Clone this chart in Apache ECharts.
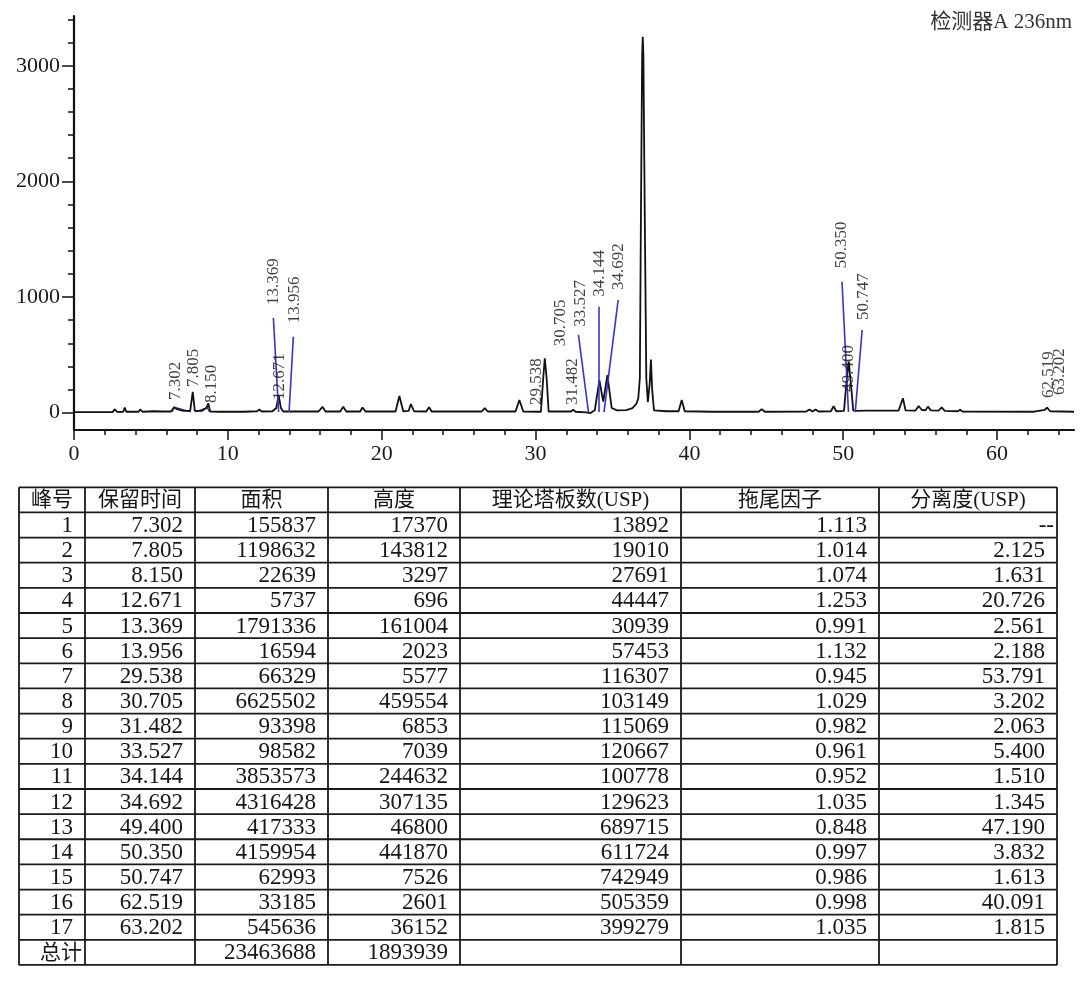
<!DOCTYPE html>
<html><head><meta charset="utf-8">
<script src="https://cdn.jsdelivr.net/npm/echarts@6/dist/echarts.min.js"></script>
<style>html,body{margin:0;padding:0;background:#fff}#c{width:1080px;height:982px}</style>
</head><body><div id="c"></div>
<script>
// ---- chromatogram trace: [time (min), signal (mAU)]
const traceData = [
 [0,5],[2.5,5],[2.65,28],[2.8,6],[3.2,8],[3.3,45],[3.4,8],[4.2,8],[4.3,28],[4.45,8],
 [5.2,12],[5.8,10],[6.3,10],[6.5,45],[6.7,30],[7.1,15],[7.55,15],[7.72,180],[7.85,15],
 [8.3,15],[8.6,40],[8.73,80],[8.85,10],[9.5,8],[11.0,8],[11.9,12],[12.05,28],[12.2,10],
 [12.9,12],[13.15,40],[13.3,150],[13.45,40],[13.6,10],[15.9,10],[16.15,50],[16.35,10],
 [17.3,10],[17.5,50],[17.7,10],[18.6,10],[18.75,45],[18.95,10],[20.9,10],[21.15,144],
 [21.4,12],[21.75,15],[21.9,75],[22.1,12],[22.9,10],[23.08,46],[23.25,10],[26.5,10],
 [26.7,40],[26.9,10],[28.7,10],[28.95,110],[29.2,10],[30.35,8],[30.5,300],[30.6,470],
 [30.72,300],[30.85,10],[32.3,10],[32.45,25],[32.6,8],[33.3,2],[33.55,-5],[33.85,20],
 [34.15,280],[34.4,95],[34.67,325],[34.95,40],[35.3,20],[35.9,22],[36.3,40],[36.55,75],
 [36.68,125],[36.78,300],[36.85,1700],[36.93,3100],[36.97,3250],[37.01,3100],[37.1,1700],
 [37.2,300],[37.3,90],[37.42,250],[37.5,460],[37.58,200],[37.7,20],[38.5,12],[39.3,12],
 [39.5,110],[39.7,12],[41.5,8],[44.5,8],[44.7,29],[44.9,8],[47.6,10],[47.8,28],[48.0,10],
 [48.2,28],[48.4,10],[49.2,12],[49.37,55],[49.55,12],[50.05,15],[50.2,250],[50.35,442],
 [50.5,250],[50.65,20],[50.8,15],[51.5,18],[53.6,18],[53.88,124],[54.05,20],[54.7,18],
 [54.9,58],[55.1,25],[55.35,20],[55.5,52],[55.7,20],[56.2,18],[56.4,45],[56.6,15],
 [57.45,12],[57.6,25],[57.75,10],[62.4,8],[63.1,25],[63.25,43],[63.45,12],[65,8]
];
// blue integration marks near the first peaks
const integrationMarks = [
 [[6.4,8],[6.5,48],[7.6,6]],
 [[7.9,6],[8.65,45],[8.8,8]]
];

// ---- peak table
const peakNo = [1,2,3,4,5,6,7,8,9,10,11,12,13,14,15,16,17];
const retTime = [7.302,7.805,8.150,12.671,13.369,13.956,29.538,30.705,31.482,33.527,34.144,34.692,49.400,50.350,50.747,62.519,63.202];
const peakArea = [155837,1198632,22639,5737,1791336,16594,66329,6625502,93398,98582,3853573,4316428,417333,4159954,62993,33185,545636];
const peakHeight = [17370,143812,3297,696,161004,2023,5577,459554,6853,7039,244632,307135,46800,441870,7526,2601,36152];
const plates = [13892,19010,27691,44447,30939,57453,116307,103149,115069,120667,100778,129623,689715,611724,742949,505359,399279];
const tailing = ['1.113','1.014','1.074','1.253','0.991','1.132','0.945','1.029','0.982','0.961','0.952','1.035','0.848','0.997','0.986','0.998','1.035'];
const resolution = ['--','2.125','1.631','20.726','2.561','2.188','53.791','3.202','2.063','5.400','1.510','1.345','47.190','3.832','1.613','40.091','1.815'];
const totalLabel = '总计';
const totalArea = 23463688;
const totalHeight = 1893939;
const tableHeaders = ['峰号','保留时间','面积','高度','理论塔板数(USP)','拖尾因子','分离度(USP)'];
const detectorTitle = '检测器A 236nm';

// ---- label layout (anchor of each rotated retention-time label, in axis units)
const labelAnchor = [
 [6.63,110],[7.76,222],[8.97,84],[13.33,110],[13.0,930],[14.32,773],[30.08,67],[31.6,575],
 [32.38,66],[32.9,743],[34.15,1003],[35.39,1060],[50.34,181],[49.92,1248],[51.32,801],
 [63.33,127],[64.04,153]
];
// blue leader lines: [from label, to peak base]
const leaderLines = [
 [[12.96,818],[13.30,5]],
 [[14.26,657],[13.98,5]],
 [[32.79,672],[33.44,5]],
 [[34.13,916],[34.13,5]],
 [[35.37,974],[34.45,5]],
 [[49.92,1132],[50.34,5]],
 [[51.23,715],[50.78,5]]
];

const SERIF = '"Liberation Serif","DejaVu Serif",serif';
const MIXED = '"Liberation Serif","Noto Sans CJK SC",serif';
const INK = '#161616';

// plot geometry
const X0 = 74, W = 1000, XMAX = 65, YTOP = 16, YBOT = 430, YMIN = -150, YMAX = 3430;
const pxPerV = (YBOT - YTOP) / (YMAX - YMIN);
const zeroY = YBOT + YMIN * pxPerV;
const pxPerT = W / XMAX;

const chart = echarts.init(document.getElementById('c'));

function hiddenAxis(extra){
  return Object.assign({type:'value', axisLine:{show:false,onZero:false}, axisTick:{show:false},
    axisLabel:{show:false}, splitLine:{show:false}}, extra);
}

// ---- table graphics
const colX = [19, 85, 195, 328, 460, 681, 879, 1057];
const rowTop = 487.3, rowH = 25.14, nRows = 19;
const graphics = [];
for (let i = 0; i <= nRows; i++) {
  const y = rowTop + i * rowH;
  graphics.push({type:'line', shape:{x1:colX[0], y1:y, x2:colX[colX.length-1], y2:y},
    style:{stroke:'#1a1a1a', lineWidth:1.8}});
}
colX.forEach(x => graphics.push({type:'line',
  shape:{x1:x, y1:rowTop, x2:x, y2:rowTop + nRows*rowH}, style:{stroke:'#1a1a1a', lineWidth:1.8}}));
function cellText(text, col, row, align, pad, size, fam){
  const yc = rowTop + (row + 0.5) * rowH + 1;
  let x;
  if (align === 'center') x = (colX[col] + colX[col+1]) / 2;
  else x = colX[col+1] - pad;
  graphics.push({type:'text', x:x, y:yc, style:{text:String(text), fill:INK,
    fontSize:size || 23, fontFamily:fam || SERIF, align:align, verticalAlign:'middle'}});
}
tableHeaders.forEach((h, c) => cellText(h, c, 0, 'center', 0, 21, MIXED));
peakNo.forEach((n, i) => {
  const r = i + 1;
  cellText(n, 0, r, 'right', 12);
  cellText(retTime[i].toFixed(3), 1, r, 'right', 12);
  cellText(peakArea[i], 2, r, 'right', 12);
  cellText(peakHeight[i], 3, r, 'right', 12);
  cellText(plates[i], 4, r, 'right', 12);
  cellText(tailing[i], 5, r, 'right', 12);
  cellText(resolution[i], 6, r, 'right', resolution[i] === '--' ? 3 : 12);
});
cellText(totalLabel, 0, 18, 'right', 3, 21, MIXED);
cellText(totalArea, 2, 18, 'right', 12);
cellText(totalHeight, 3, 18, 'right', 12);
graphics.push({type:'text', x:1072, y:22, style:{text:detectorTitle, fill:'#333',
  fontSize:21, fontFamily:MIXED, align:'right', verticalAlign:'middle'}});

const tickStyle = {color:'#111', width:1.5};

chart.setOption({
  animation:false,
  backgroundColor:'#fff',
  grid:[
    {left:X0, top:YTOP, width:W, height:YBOT-YTOP},
    {left:X0, top:zeroY-3400*pxPerV, width:64*pxPerT, height:3400*pxPerV},
    {left:X0, top:zeroY-3000*pxPerV, width:60*pxPerT, height:3000*pxPerV}
  ],
  xAxis:[
    hiddenAxis({gridIndex:0, min:0, max:XMAX,
      axisLine:{show:true, onZero:false, lineStyle:{color:'#111', width:2.2}}}),
    hiddenAxis({gridIndex:1, min:0, max:64, interval:2, offset:YBOT-zeroY,
      axisTick:{show:true, length:5, lineStyle:tickStyle}}),
    hiddenAxis({gridIndex:2, min:0, max:60, interval:10, offset:YBOT-zeroY,
      axisTick:{show:true, length:10, lineStyle:tickStyle},
      axisLabel:{show:true, fontSize:22, fontFamily:SERIF, color:'#1a1a1a', margin:13,
        formatter:v => String(v)}})
  ],
  yAxis:[
    hiddenAxis({gridIndex:0, min:YMIN, max:YMAX,
      axisLine:{show:true, onZero:false, lineStyle:{color:'#111', width:2.2}}}),
    hiddenAxis({gridIndex:1, min:0, max:3400, interval:200,
      axisTick:{show:true, length:6, lineStyle:tickStyle}}),
    hiddenAxis({gridIndex:2, min:0, max:3000, interval:1000,
      axisTick:{show:true, length:12, lineStyle:tickStyle},
      axisLabel:{show:true, fontSize:22, fontFamily:SERIF, color:'#1a1a1a', margin:14,
        formatter:v => String(v)}})
  ],
  series:[
    {type:'line', xAxisIndex:0, yAxisIndex:0, data:traceData, showSymbol:false, symbol:'none',
      lineStyle:{color:'#111', width:1.8}, silent:true, z:3},
    {type:'lines', coordinateSystem:'cartesian2d', xAxisIndex:0, yAxisIndex:0, polyline:true,
      data:integrationMarks.map(c => ({coords:c})), lineStyle:{color:'#3535c8', width:1.3, opacity:1},
      silent:true, z:2},
    {type:'lines', coordinateSystem:'cartesian2d', xAxisIndex:0, yAxisIndex:0,
      data:leaderLines.map(c => ({coords:c})), lineStyle:{color:'#3535c8', width:1.6, opacity:1},
      silent:true, z:4},
    {type:'scatter', xAxisIndex:0, yAxisIndex:0, symbolSize:0.1, itemStyle:{color:'rgba(0,0,0,0)'},
      data:labelAnchor.map((a, i) => ({value:a, name:retTime[i].toFixed(3)})),
      label:{show:true, formatter:p => p.name, position:'inside', rotate:90, align:'left',
        verticalAlign:'middle', fontSize:17, fontFamily:SERIF, color:'#111'},
      silent:true, z:5}
  ],
  graphic:graphics
});
</script>
</body></html>
